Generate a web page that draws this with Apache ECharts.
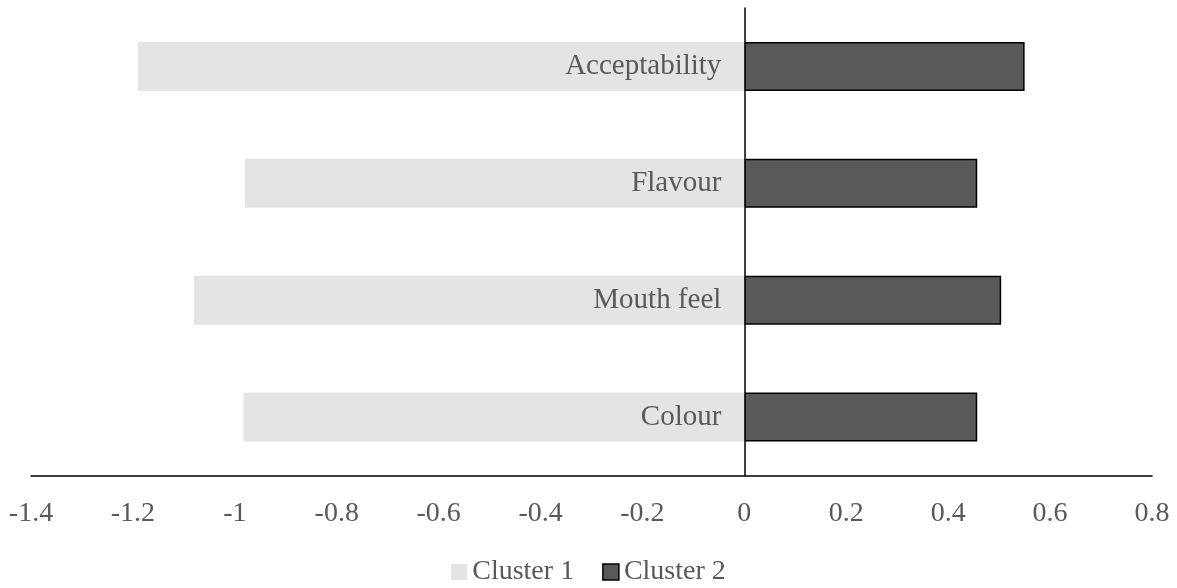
<!DOCTYPE html>
<html><head><meta charset="utf-8">
<script src="https://cdn.jsdelivr.net/npm/echarts@6/dist/echarts.min.js"></script>
<style>html,body{margin:0;padding:0;background:#fff}#c{width:1177px;height:588px}</style>
</head><body><div id="c"></div>
<script>
const categories = ['Acceptability', 'Flavour', 'Mouth feel', 'Colour'];
const cluster1 = [-1.19, -0.98, -1.08, -0.983];
const cluster2 = [0.55, 0.457, 0.504, 0.457];
const xTicks = { min: -1.4, max: 0.8, interval: 0.2 };

const font = '"Liberation Serif", "DejaVu Serif", serif';
const chart = echarts.init(document.getElementById('c'));
chart.setOption({
  animation: false,
  textStyle: { fontFamily: font },
  grid: { left: 31, right: 25, top: 8, bottom: 112.5, containLabel: false, outerBoundsMode: 'none' },
  legend: {
    bottom: -3, left: 'center', itemWidth: 16, itemHeight: 16, itemGap: 28,
    textStyle: { fontFamily: font, fontSize: 28, color: '#595959' },
    data: [
      { name: 'Cluster 1', icon: 'rect', itemStyle: { color: '#e4e4e4', borderWidth: 0 } },
      { name: 'Cluster 2', icon: 'rect', itemStyle: { color: '#595959', borderColor: '#000', borderWidth: 1.5 } }
    ]
  },
  xAxis: {
    type: 'value', min: xTicks.min, max: xTicks.max, interval: xTicks.interval,
    axisLine: { show: true, lineStyle: { color: '#000', width: 1.5 } },
    axisTick: { show: false }, splitLine: { show: false },
    axisLabel: { margin: 24, fontFamily: font, fontSize: 28, color: '#595959',
      formatter: v => String(Math.round(v * 10) / 10) }
  },
  yAxis: {
    type: 'category', data: categories, inverse: true,
    axisLine: { show: true, onZero: true, lineStyle: { color: '#000', width: 1.5 } },
    axisTick: { show: false },
    axisLabel: { show: false }
  },
  series: [
    { name: 'Cluster 1', type: 'bar', data: cluster1, barWidth: 49, barGap: '-100%',
      itemStyle: { color: '#e4e4e4' }, z: 1,
      label: { show: true, position: 'insideRight', distance: 23, formatter: '{b}',
        fontFamily: font, fontSize: 29, color: '#595959' } },
    { name: 'Cluster 2', type: 'bar', data: cluster2, barWidth: 49,
      itemStyle: { color: '#595959', borderColor: '#000', borderWidth: 1.5 }, z: 2 }
  ]
});
</script></body></html>
